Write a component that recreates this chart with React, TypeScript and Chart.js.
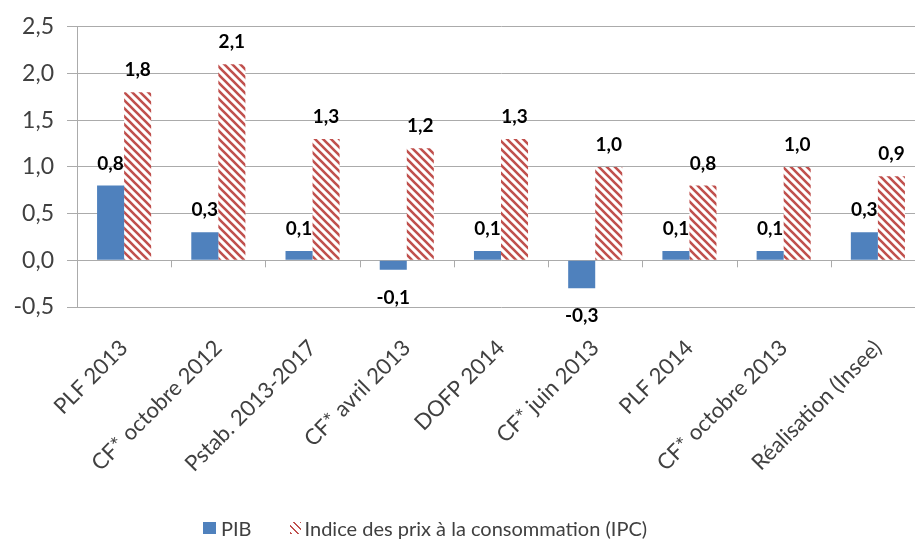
import React, { useEffect, useRef } from "react";
import { Chart, registerables } from "chart.js";

Chart.register(...registerables);

const categories = [
  "PLF 2013",
  "CF* octobre 2012",
  "Pstab. 2013-2017",
  "CF* avril 2013",
  "DOFP 2014",
  "CF* juin 2013",
  "PLF 2014",
  "CF* octobre 2013",
  "Réalisation (Insee)",
];
const pibValues = [0.8, 0.3, 0.1, -0.1, 0.1, -0.3, 0.1, 0.1, 0.3];
const ipcValues = [1.8, 2.1, 1.3, 1.2, 1.3, 1.0, 0.8, 1.0, 0.9];
const seriesLabels = ["PIB", "Indice des prix à la consommation (IPC)"];
const yMin = -0.5;
const yMax = 2.5;
const yStep = 0.5;

const BLUE = "#4F81BD";
const RED = "#C0504D";
const GRID = "#ABABAB";
const TEXT = "#404040";
const FONT = "Lato, 'Open Sans', sans-serif";

function fmt(v: number, d: number) {
  return v.toFixed(d).replace(".", ",");
}

function makeHatch(): CanvasPattern | string {
  const s = 8;
  const c = document.createElement("canvas");
  c.width = s;
  c.height = s;
  const ctx = c.getContext("2d");
  if (!ctx) return RED;
  ctx.fillStyle = "#ffffff";
  ctx.fillRect(0, 0, s, s);
  ctx.strokeStyle = RED;
  ctx.lineWidth = 2.6;
  ctx.beginPath();
  ctx.moveTo(-2, -2);
  ctx.lineTo(s + 2, s + 2);
  ctx.moveTo(-2, s - 2);
  ctx.lineTo(2, s + 2);
  ctx.moveTo(s - 2, -2);
  ctx.lineTo(s + 2, 2);
  ctx.stroke();
  return ctx.createPattern(c, "repeat") || RED;
}

const zeroTicks = {
  id: "zeroTicks",
  afterDraw(chart: any) {
    const xs = chart.scales.x;
    const ys = chart.scales.y;
    const ctx = chart.ctx;
    const n = categories.length;
    const step = (xs.right - xs.left) / n;
    const y0 = ys.getPixelForValue(0);
    ctx.save();
    ctx.strokeStyle = GRID;
    ctx.lineWidth = 1;
    ctx.beginPath();
    for (let i = 1; i <= n; i++) {
      const x = Math.round(xs.left + i * step) + 0.5;
      ctx.moveTo(x, y0);
      ctx.lineTo(x, y0 + 7);
    }
    ctx.stroke();
    ctx.restore();
  },
};

const valueLabels = {
  id: "valueLabels",
  afterDatasetsDraw(chart: any) {
    const ctx = chart.ctx;
    ctx.save();
    ctx.font = `bold 19px ${FONT}`;
    ctx.fillStyle = "#000000";
    ctx.textAlign = "center";
    ctx.textBaseline = "middle";
    chart.data.datasets.forEach((ds: any, di: number) => {
      const meta = chart.getDatasetMeta(di);
      meta.data.forEach((el: any, i: number) => {
        const v = ds.data[i] as number;
        const y = v >= 0 ? el.y - 22 : el.y + 28;
        ctx.fillText(fmt(v, 1), el.x, y);
      });
    });
    ctx.restore();
  },
};

export default function App() {
  const ref = useRef<HTMLCanvasElement>(null);
  useEffect(() => {
    const canvas = ref.current;
    if (!canvas) return;
    const hatch = makeHatch();
    const chart = new Chart(canvas, {
      type: "bar",
      data: {
        labels: categories,
        datasets: [
          { label: seriesLabels[0], data: pibValues, backgroundColor: BLUE, borderWidth: 0 },
          { label: seriesLabels[1], data: ipcValues, backgroundColor: hatch as any, borderWidth: 0 },
        ],
      },
      options: {
        responsive: false,
        animation: false,
        layout: { padding: { top: 23, left: 0, right: 0, bottom: 0 } },
        datasets: { bar: { categoryPercentage: 0.574, barPercentage: 1 } },
        plugins: { legend: { display: false }, tooltip: { enabled: false } },
        scales: {
          x: {
            grid: { display: false, drawTicks: false },
            border: { display: false },
            ticks: {
              minRotation: 45,
              maxRotation: 45,
              autoSkip: false,
              padding: 28,
              color: TEXT,
              font: { family: FONT, size: 22 },
            },
            afterFit: (a: any) => {
              a.height = 235;
            },
          },
          y: {
            min: yMin,
            max: yMax,
            ticks: {
              stepSize: yStep,
              callback: (v: any) => fmt(Number(v), 1),
              padding: 13,
              color: TEXT,
              font: { family: FONT, size: 23 },
            },
            grid: { color: GRID, tickLength: 10, lineWidth: 1 },
            border: { color: GRID, width: 1 },
            afterFit: (a: any) => {
              a.width = 77;
            },
          },
        },
      },
      plugins: [zeroTicks, valueLabels],
    });
    return () => chart.destroy();
  }, []);

  const legendText: React.CSSProperties = {
    fontFamily: FONT,
    fontSize: 20,
    color: TEXT,
    lineHeight: "20px",
  };

  return (
    <div
      style={{
        position: "fixed",
        left: 0,
        top: 0,
        width: 915,
        height: 542,
        overflow: "hidden",
        background: "#ffffff",
      }}
    >
      <canvas ref={ref} width={925} height={542} style={{ position: "absolute", left: 0, top: 0 }} />
      <div
        style={{
          position: "absolute",
          left: 203,
          top: 518,
          display: "flex",
          alignItems: "center",
          ...legendText,
        }}
      >
        <span style={{ width: 13, height: 12, background: BLUE, display: "inline-block", marginRight: 5 }} />
        <span>{seriesLabels[0]}</span>
        <span
          style={{
            width: 11,
            height: 12,
            display: "inline-block",
            marginLeft: 38,
            marginRight: 4,
            background: `repeating-linear-gradient(45deg, ${RED} 0px, ${RED} 2px, #ffffff 2px, #ffffff 5px)`,
          }}
        />
        <span>{seriesLabels[1]}</span>
      </div>
    </div>
  );
}
